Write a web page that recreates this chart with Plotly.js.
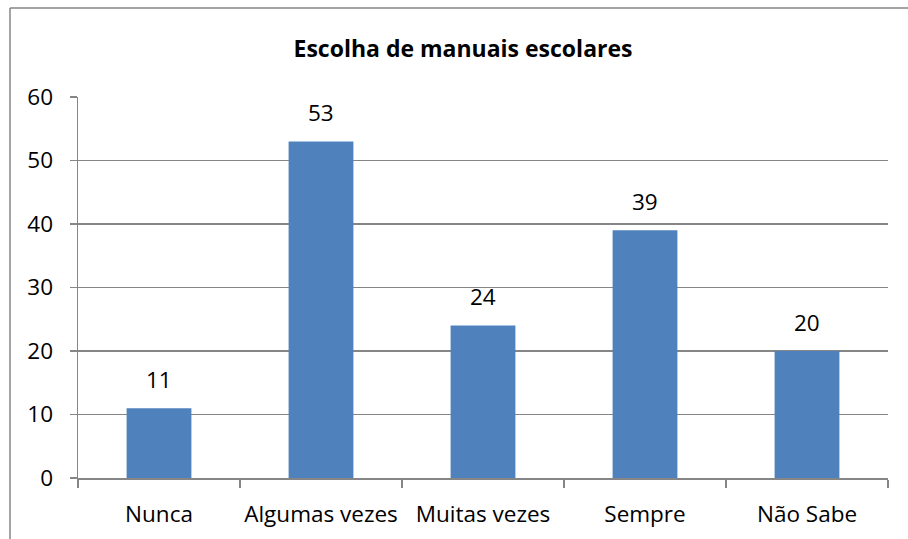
<!DOCTYPE html>
<html>
<head>
<meta charset="utf-8">
<script src="https://cdn.plot.ly/plotly-3.0.1.min.js"></script>
<style>html,body{margin:0;padding:0;background:#fff;}#chart{width:908px;height:539px;}</style>
</head>
<body>
<div id="chart"></div>
<script>
const categories = ["Nunca", "Algumas vezes", "Muitas vezes", "Sempre", "Não Sabe"];
const values = [11, 53, 24, 39, 20];
const yTicks = [0, 10, 20, 30, 40, 50, 60];
const chartTitle = "Escolha de manuais escolares";

const L = 78, R = 20, T = 97, B = 61, W = 908, H = 539;
const pw = W - L - R, ph = H - T - B;
const px = v => (v - L) / pw;
const py = v => (H - B - v) / ph;
const font = "'Open Sans', Lato, sans-serif";

const trace = {
  type: "bar",
  x: categories,
  y: values,
  marker: {color: "#4F81BD"},
  hoverinfo: "none"
};

const annotations = categories.map((c, i) => ({
  x: c, y: values[i], xref: "x", yref: "y",
  text: String(values[i]), showarrow: false,
  yanchor: "middle", xanchor: "center", yshift: 29,
  font: {family: font, size: 22.5, color: "#000"}
}));

const layout = {
  width: W, height: H,
  margin: {l: L, r: R, t: T, b: B},
  paper_bgcolor: "#fff", plot_bgcolor: "#fff",
  bargap: 0.6,
  showlegend: false,
  title: {text: "<b>" + chartTitle + "</b>", font: {family: font, size: 23, color: "#000"},
          x: px(463), xref: "paper", xanchor: "center", y: 1 - 49 / H, yanchor: "middle"},
  xaxis: {
    type: "category", tickangle: 0,
    showline: true, linecolor: "#868686", linewidth: 1.5,
    ticks: "outside", tickson: "boundaries", ticklen: 8, tickcolor: "#868686", tickwidth: 1.5,
    tickfont: {family: font, size: 22.5, color: "#000"},
    showgrid: false, zeroline: false, ticklabelstandoff: 15
  },
  yaxis: {
    range: [0, 60], tickvals: yTicks,
    showline: true, linecolor: "#868686", linewidth: 1.5,
    ticks: "outside", ticklen: 7, tickcolor: "#868686", tickwidth: 1.5,
    tickfont: {family: font, size: 22.5, color: "#000"},
    showgrid: true, gridcolor: "#868686", gridwidth: 1.5,
    zeroline: false, ticklabelstandoff: 12
  },
  annotations: annotations,
  shapes: [
    {type: "line", xref: "paper", yref: "paper", x0: px(10), x1: px(W + 5), y0: py(8), y1: py(8),
     line: {color: "#868686", width: 1.5}},
    {type: "line", xref: "paper", yref: "paper", x0: px(10), x1: px(10), y0: py(8), y1: py(H + 5),
     line: {color: "#868686", width: 1.5}}
  ]
};

Plotly.newPlot("chart", [trace], layout, {staticPlot: true, displayModeBar: false});
</script>
</body>
</html>
